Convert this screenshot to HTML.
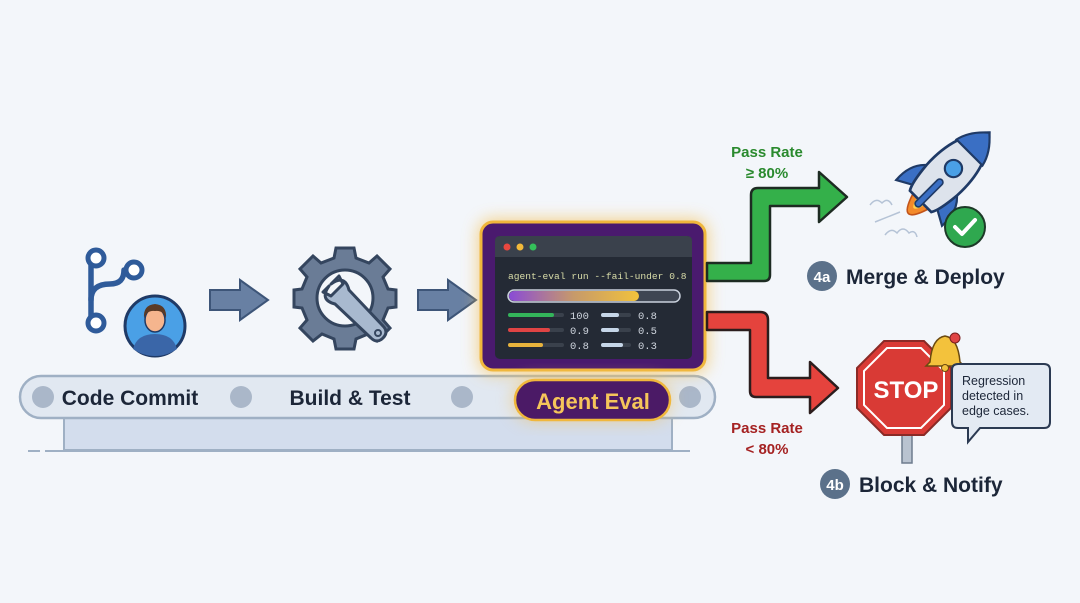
<!DOCTYPE html>
<html><head><meta charset="utf-8"><style>
html,body{margin:0;padding:0;background:#f3f6fa;}
svg{display:block}
text{font-family:"Liberation Sans",sans-serif;font-weight:bold}
text.mono,.mono text{font-family:"Liberation Mono",monospace;font-weight:normal}
text.reg{font-weight:normal}
</style></head><body>
<svg width="1080" height="603" viewBox="0 0 1080 603" xmlns="http://www.w3.org/2000/svg">
<defs>
<filter id="glow" x="-30%" y="-30%" width="160%" height="160%"><feGaussianBlur stdDeviation="8"/></filter>
<linearGradient id="bar" x1="0" x2="1"><stop offset="0" stop-color="#8a4bd6"/><stop offset="0.5" stop-color="#c79a6a"/><stop offset="1" stop-color="#f1c23c"/></linearGradient>
</defs>
<rect width="1080" height="603" fill="#f3f6fa"/>

<!-- conveyor -->
<rect x="64" y="414" width="608" height="36" fill="#d3dded" stroke="#9fb0c4" stroke-width="2"/>
<line x1="28" y1="451" x2="40" y2="451" stroke="#9fb0c4" stroke-width="2"/>
<line x1="45" y1="451" x2="690" y2="451" stroke="#9fb0c4" stroke-width="2"/>
<rect x="20" y="376" width="695" height="42" rx="21" fill="#e1e8f1" stroke="#9fb0c4" stroke-width="2.5"/>
<circle cx="43" cy="397" r="11" fill="#aab7c9"/>
<circle cx="241" cy="397" r="11" fill="#aab7c9"/>
<circle cx="462" cy="397" r="11" fill="#aab7c9"/>
<circle cx="690" cy="397" r="11" fill="#aab7c9"/>
<text x="130" y="405" font-size="21" fill="#1c2638" text-anchor="middle">Code Commit</text>
<text x="350" y="405" font-size="21" fill="#1c2638" text-anchor="middle">Build &amp; Test</text>

<!-- git icon -->
<g fill="none" stroke="#2f5b9a" stroke-width="5.5" stroke-linecap="round">
<path d="M91 262 V318"/>
<path d="M91 300 Q91 284 110 284 Q124 284 124 270"/>
</g>
<g fill="#fff" stroke="#2f5b9a" stroke-width="5">
<circle cx="96" cy="258" r="8"/><circle cx="134" cy="270" r="8"/><circle cx="96" cy="323" r="8"/>
</g>
<circle cx="155" cy="326" r="30" fill="#4aa0e6" stroke="#1f3a66" stroke-width="3"/>
<path d="M133 349 Q137 334 155 334 Q173 334 177 349 Q167 356 155 356 Q143 356 133 349Z" fill="#3a66a8"/>
<ellipse cx="155" cy="320" rx="10" ry="12" fill="#f5b58e" stroke="#1f3a66" stroke-width="1.5"/>
<path d="M144 318 Q143 305 155 304 Q167 305 166 318 Q163 310 155 311 Q147 310 144 318Z" fill="#5a3a26"/>

<!-- small arrows -->
<path d="M210 290 H240 V280 L268 300 L240 320 V310 H210Z" fill="#6880a3" stroke="#3d5578" stroke-width="2"/>
<path d="M418 290 H448 V280 L476 300 L448 320 V310 H418Z" fill="#6880a3" stroke="#3d5578" stroke-width="2"/>

<!-- gear -->
<g transform="translate(345,298)">
<g fill="#6a7c96" stroke="#34455e" stroke-width="3">
<path d="M-9 -50 H9 L11 -40 L24 -35 L32 -42 L45 -29 L38 -21 L43 -9 L51 -8 V9 L43 10 L38 22 L45 30 L32 43 L23 36 L11 41 L9 51 H-9 L-11 41 L-23 36 L-32 43 L-45 30 L-38 22 L-43 10 L-51 9 V-8 L-43 -9 L-38 -21 L-45 -29 L-32 -42 L-24 -35 L-11 -40Z"/>
</g>
<circle r="28" fill="#f3f6fa" stroke="#34455e" stroke-width="3"/>
<path d="M-14 -14 L-6 -22 L-2 -14 L-14 -2 L-22 -6 L-16 -12 Q-26 2 -10 6 L26 40 Q32 46 38 40 Q44 34 38 28 L4 -8 Q0 -24 -14 -14Z" fill="#a8b9cf" stroke="#34455e" stroke-width="3" stroke-linejoin="round"/>
<circle cx="33" cy="35" r="3" fill="none" stroke="#34455e" stroke-width="2"/>
</g>

<!-- terminal glow -->
<rect x="478" y="219" width="230" height="155" rx="14" fill="#f5c25a" opacity="0.7" filter="url(#glow)"/>
<rect x="481" y="222" width="224" height="148" rx="12" fill="#4a1a6e" stroke="#f0b73c" stroke-width="3"/>
<rect x="495" y="236" width="197" height="123" rx="5" fill="#242a35"/>
<path d="M495 257 V241 Q495 236 500 236 H687 Q692 236 692 241 V257Z" fill="#3a414c"/>
<circle cx="507" cy="247" r="3.5" fill="#e8473f"/><circle cx="520" cy="247" r="3.5" fill="#f2b93a"/><circle cx="533" cy="247" r="3.5" fill="#34c05a"/>
<text x="508" y="279" class="mono" font-size="9.6" fill="#d8dca8">agent-eval run --fail-under 0.8</text>
<rect x="508" y="290" width="172" height="12" rx="6" fill="#3f4653" stroke="#c9d0dc" stroke-width="1.5"/>
<rect x="509" y="291" width="130" height="10" rx="5" fill="url(#bar)"/>
<rect x="508" y="313" width="56" height="4" rx="2" fill="#3a414c"/><rect x="508" y="313" width="46" height="4" rx="2" fill="#33b45a"/>
<rect x="508" y="328" width="56" height="4" rx="2" fill="#3a414c"/><rect x="508" y="328" width="42" height="4" rx="2" fill="#e04444"/>
<rect x="508" y="343" width="56" height="4" rx="2" fill="#3a414c"/><rect x="508" y="343" width="35" height="4" rx="2" fill="#e8b33c"/>
<rect x="601" y="313" width="30" height="4" rx="2" fill="#3a414c"/><rect x="601" y="313" width="18" height="4" rx="2" fill="#c6d6e8"/>
<rect x="601" y="328" width="30" height="4" rx="2" fill="#3a414c"/><rect x="601" y="328" width="18" height="4" rx="2" fill="#c6d6e8"/>
<rect x="601" y="343" width="30" height="4" rx="2" fill="#3a414c"/><rect x="601" y="343" width="22" height="4" rx="2" fill="#c6d6e8"/>
<g font-size="10.5" fill="#cfd5de">
<text class="mono" x="570" y="319">100</text><text class="mono" x="570" y="334">0.9</text><text class="mono" x="570" y="349">0.8</text>
<text class="mono" x="638" y="319">0.8</text><text class="mono" x="638" y="334">0.5</text><text class="mono" x="638" y="349">0.3</text>
</g>

<!-- agent eval pill -->
<rect x="512" y="377" width="160" height="45" rx="22" fill="#f5c25a" opacity="0.5" filter="url(#glow)"/>
<rect x="515" y="380" width="155" height="40" rx="20" fill="#4b1a66" stroke="#f0b73c" stroke-width="2.5"/>
<text x="593" y="409" font-size="22" fill="#f5c55a" text-anchor="middle">Agent Eval</text>

<!-- green arrow -->
<path d="M707 263 H751 V195 Q751 188 758 188 H819 V172 L847 197 L819 222 V206 H770 V275 Q770 281 764 281 H707Z" fill="#34b04a" stroke="#1d2b22" stroke-width="2.5" stroke-linejoin="round"/>
<!-- red arrow -->
<path d="M707 312 H760 Q768 312 768 320 V378 H810 V362 L838 388 L810 413 V397 H756 Q750 397 750 391 V330 H707Z" fill="#e5433d" stroke="#2b1d1d" stroke-width="2.5" stroke-linejoin="round"/>

<text x="767" y="157" font-size="15" fill="#2a8a2e" text-anchor="middle">Pass Rate</text>
<text x="767" y="178" font-size="15" fill="#2a8a2e" text-anchor="middle">≥ 80%</text>
<text x="767" y="433" font-size="15" fill="#a52222" text-anchor="middle">Pass Rate</text>
<text x="767" y="454" font-size="15" fill="#a52222" text-anchor="middle">&lt; 80%</text>

<!-- clouds -->
<g fill="none" stroke="#b5c3d6" stroke-width="1.5">
<path d="M870 205 q6 -8 12 -2 q6 -6 10 2"/><path d="M885 235 q6 -8 12 -2 q6 -8 12 0 q6 -4 8 4"/><path d="M875 222 l25 -10"/>
</g>
<!-- rocket -->
<g transform="translate(942,180) rotate(45) scale(1.08)">
<path d="M-12 -5 Q-32 5 -30 30 L-12 20Z" fill="#3a6fc4" stroke="#1f3a66" stroke-width="2"/>
<path d="M12 -5 Q32 5 30 30 L12 20Z" fill="#3a6fc4" stroke="#1f3a66" stroke-width="2"/>
<path d="M-10 28 Q0 60 10 28Z" fill="#f38a2a" stroke="#c2541a" stroke-width="1.5"/>
<path d="M-5 28 Q0 46 5 28Z" fill="#ffd04a"/>
<path d="M0 -62 Q22 -40 20 0 Q18 22 14 28 H-14 Q-18 22 -20 0 Q-22 -40 0 -62Z" fill="#dde3ec" stroke="#1f3a66" stroke-width="2.5"/>
<path d="M0 -62 Q14 -50 17 -36 H-17 Q-14 -50 0 -62Z" fill="#3a6fc4" stroke="#1f3a66" stroke-width="2"/>
<circle cx="0" cy="-15" r="8" fill="#4aa0e6" stroke="#1f3a66" stroke-width="2"/>
<rect x="-3" y="0" width="6" height="34" rx="3" fill="#3a6fc4" stroke="#1f3a66" stroke-width="1.5"/>
</g>
<circle cx="965" cy="227" r="20" fill="#2fa84f" stroke="#1d3a28" stroke-width="2"/>
<path d="M955 227 L962 234 L975 220" fill="none" stroke="#fff" stroke-width="4" stroke-linecap="round" stroke-linejoin="round"/>

<circle cx="822" cy="276" r="15" fill="#5b718a"/>
<text x="822" y="282" font-size="15" fill="#fff" text-anchor="middle">4a</text>
<text x="846" y="284" font-size="21" fill="#1c2638">Merge &amp; Deploy</text>

<!-- stop -->
<rect x="902" y="430" width="10" height="33" fill="#b9c3d0" stroke="#6e7c8e" stroke-width="1.5"/>
<polygon points="884,341 924,341 951,368 951,408 924,435 884,435 857,408 857,368" fill="#d93a35" stroke="#8a2a26" stroke-width="2"/>
<polygon points="887,348 921,348 944,371 944,405 921,428 887,428 864,405 864,371" fill="none" stroke="#fff" stroke-width="2"/>
<text x="906" y="398" font-size="24" fill="#fff" text-anchor="middle">STOP</text>
<!-- bell -->
<path d="M930 362 Q932 338 945 336 Q958 338 960 362 L964 366 H926Z" fill="#f3c23c" stroke="#6b4a10" stroke-width="1.5"/>
<circle cx="945" cy="368" r="3.5" fill="#f3c23c" stroke="#6b4a10" stroke-width="1"/>
<circle cx="955" cy="338" r="5" fill="#e04444" stroke="#7a1f1f" stroke-width="1"/>
<!-- bubble -->
<path d="M958 364 H1044 Q1050 364 1050 370 V422 Q1050 428 1044 428 H980 L968 442 L968 428 H958 Q952 428 952 422 V370 Q952 364 958 364Z" fill="#e3eaf3" stroke="#2b3a52" stroke-width="2"/>
<g font-size="12.5" fill="#1c2638">
<text class="reg" x="962" y="385">Regression</text>
<text class="reg" x="962" y="400">detected in</text>
<text class="reg" x="962" y="415">edge cases.</text>
</g>

<circle cx="835" cy="484" r="15" fill="#5b718a"/>
<text x="835" y="490" font-size="15" fill="#fff" text-anchor="middle">4b</text>
<text x="859" y="492" font-size="21" fill="#1c2638">Block &amp; Notify</text>
</svg>
</body></html>
